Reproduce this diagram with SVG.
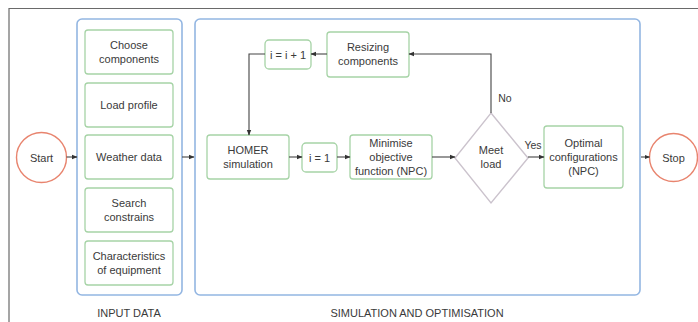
<svg xmlns="http://www.w3.org/2000/svg" width="698" height="322" viewBox="0 0 698 322">
<defs>
<marker id="ah" markerWidth="6" markerHeight="6" refX="5" refY="3" orient="auto" markerUnits="userSpaceOnUse">
<path d="M0,0.8 L5.5,3 L0,5.2 Z" fill="#333"/>
</marker>
<style>
text{font-family:"Liberation Sans",Arial,sans-serif;font-size:11px;fill:#3a3a3a;text-anchor:middle}
.panel{fill:#fff;stroke:#93b6e2;stroke-width:1.6}
.box{fill:#fff;stroke:#a6d3a6;stroke-width:1.3}
.circ{fill:#fff;stroke:#e8846e;stroke-width:1.4}
.dia{fill:#fff;stroke:#cbc3cd;stroke-width:1.4}
.conn{fill:none;stroke:#444;stroke-width:1.1;marker-end:url(#ah)}
.lbl{font-size:10.5px}
</style>
</defs>
<rect width="698" height="322" fill="#fff"/>
<path d="M9,322 V8.5 H698" fill="none" stroke="#6a6a6a" stroke-width="1.2"/>

<g id="panel-input">
<rect class="panel" x="77" y="19" width="105" height="276" rx="5"/>
<text x="129" y="317">INPUT DATA</text>
</g>
<g id="panel-sim">
<rect class="panel" x="195" y="19" width="445" height="276" rx="5"/>
<text x="417" y="317">SIMULATION AND OPTIMISATION</text>
</g>

<g id="start">
<circle class="circ" cx="41.5" cy="157.5" r="25"/>
<text x="41.5" y="161.5">Start</text>
</g>
<g id="stop">
<circle class="circ" cx="673.5" cy="157.5" r="24"/>
<text x="673.5" y="161.5">Stop</text>
</g>

<g id="choose">
<rect class="box" x="85" y="30" width="88" height="44" rx="3"/>
<text x="129" y="49">Choose</text>
<text x="129" y="63">components</text>
</g>
<g id="load">
<rect class="box" x="85" y="83" width="88" height="44" rx="3"/>
<text x="129" y="109">Load profile</text>
</g>
<g id="weather">
<rect class="box" x="85" y="135" width="88" height="44" rx="3"/>
<text x="129" y="161">Weather data</text>
</g>
<g id="search">
<rect class="box" x="85" y="188" width="88" height="44" rx="3"/>
<text x="129" y="207">Search</text>
<text x="129" y="221">constrains</text>
</g>
<g id="charac">
<rect class="box" x="85" y="241" width="88" height="44" rx="3"/>
<text x="129" y="260">Characteristics</text>
<text x="129" y="274">of equipment</text>
</g>

<g id="homer">
<rect class="box" x="207" y="135" width="82" height="44" rx="3"/>
<text x="248" y="154">HOMER</text>
<text x="248" y="168">simulation</text>
</g>
<g id="i1">
<rect class="box" x="302" y="143" width="35" height="29" rx="4" stroke-width="2"/>
<text x="319.5" y="161.5">i = 1</text>
</g>
<g id="minimise">
<rect class="box" x="350" y="135" width="82" height="44" rx="3"/>
<text x="391" y="147">Minimise</text>
<text x="391" y="161">objective</text>
<text x="391" y="175">function (NPC)</text>
</g>
<g id="iinc">
<rect class="box" x="265" y="40" width="46" height="29" rx="4" stroke-width="1.8"/>
<text x="288" y="58.5">i = i + 1</text>
</g>
<g id="resizing">
<rect class="box" x="327" y="32" width="82" height="45" rx="3"/>
<text x="368" y="51">Resizing</text>
<text x="368" y="65">components</text>
</g>
<g id="meet">
<polygon class="dia" points="491,113 528,158 491,203 455,158"/>
<text x="491" y="154">Meet</text>
<text x="491" y="168">load</text>
</g>
<g id="optimal">
<rect class="box" x="544" y="126" width="79" height="62" rx="3"/>
<text x="583.5" y="147">Optimal</text>
<text x="583.5" y="161">configurations</text>
<text x="583.5" y="175">(NPC)</text>
</g>

<g id="connectors">
<line class="conn" x1="66.5" y1="157" x2="77" y2="157"/>
<line class="conn" x1="182" y1="157" x2="194" y2="157"/>
<line class="conn" x1="289" y1="157" x2="302" y2="157"/>
<line class="conn" x1="337" y1="157" x2="350" y2="157"/>
<line class="conn" x1="432" y1="157" x2="455" y2="157"/>
<line class="conn" x1="528" y1="157" x2="544" y2="157"/>
<line class="conn" x1="641" y1="157" x2="649.5" y2="157"/>
<polyline class="conn" points="491,113 491,54 409,54"/>
<line class="conn" x1="327" y1="54" x2="311" y2="54"/>
<polyline class="conn" points="265,54 249,54 249,135"/>
<text class="lbl" x="505" y="102">No</text>
<text class="lbl" x="533" y="149">Yes</text>
</g>
</svg>
